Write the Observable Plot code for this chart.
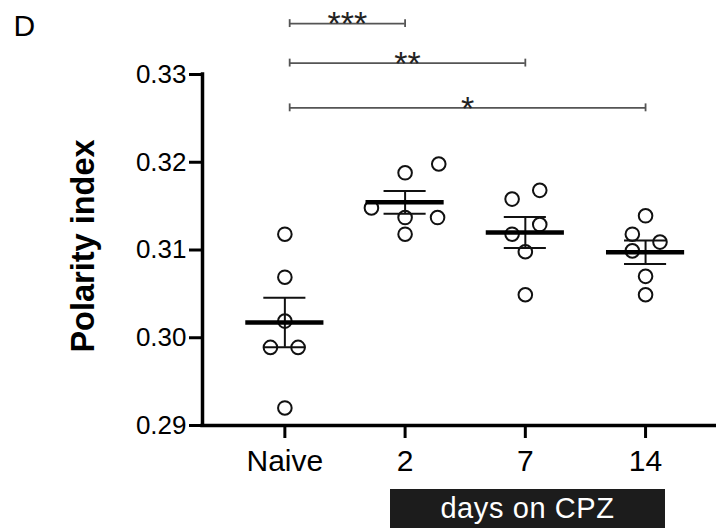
<!DOCTYPE html>
<html><head><meta charset="utf-8">
<script src="https://cdn.jsdelivr.net/npm/d3@7"></script>
<script src="https://cdn.jsdelivr.net/npm/@observablehq/plot@0.6"></script>
<style>
body{margin:0;background:#fff;font-family:"Liberation Sans",Arial,sans-serif;}
#wrap{position:relative;width:716px;height:528px;overflow:hidden;}
#cpz{position:absolute;left:390px;top:489px;width:275px;height:39px;background:#1c1c1c;color:#fff;font-size:29px;line-height:39px;text-align:center;letter-spacing:0.6px;}
</style></head><body><div id="wrap"><div id="chart"></div><div id="cpz">days on CPZ</div></div>
<script>
// Categories
const groups = ["Naive", "2", "7", "14"];
// Polarity index values per animal
const naive = [0.3118, 0.3069, 0.3019, 0.2989, 0.2989, 0.2920];
const day2  = [0.3188, 0.3198, 0.3148, 0.3137, 0.3137, 0.3118];
const day7  = [0.3158, 0.3168, 0.3129, 0.3118, 0.3098, 0.3049];
const day14 = [0.3139, 0.3118, 0.3109, 0.3099, 0.3070, 0.3049];
// Horizontal scatter of each point within its column (x units of one category)
const jitterNaive = [0, 0, 0, -0.12, 0.11, 0];
const jitterDay2  = [0, 0.28, -0.28, 0, 0.27, 0];
const jitterDay7  = [-0.11, 0.12, 0.12, -0.11, 0, 0];
const jitterDay14 = [0, -0.11, 0.12, -0.11, 0, 0];
// Significance brackets (from Naive to target)
const sigTargets = ["2", "7", "14"];
const sigLabels = ["***", "**", "*"];
const sigLevels = [0.3358, 0.3313, 0.3262];
// Y ticks
const yTicks = [0.29, 0.30, 0.31, 0.32, 0.33];

const series = [naive, day2, day7, day14];
const jitters = [jitterNaive, jitterDay2, jitterDay7, jitterDay14];
const points = series.flatMap((vals, g) => vals.map((v, k) => ({g, v, x: g + jitters[g][k]})));
const stats = series.map((vals, g) => {
  const m = d3.mean(vals);
  const se = d3.deviation(vals) / Math.sqrt(vals.length);
  return {g, m, lo: m - se, hi: m + se};
});
const sig = sigTargets.map((t, i) => ({x1: 0.04, x2: groups.indexOf(t), y: sigLevels[i], label: sigLabels[i]}));
const sigEnds = sig.flatMap(d => [{x: d.x1, y: d.y}, {x: d.x2, y: d.y}]);

const XDOM = [-0.685, 3.59], YDOM = [0.29, 0.33];
const MEAN_HW = 0.325, SEM_HW = 0.175, CAP = 0.00045;

const chart = Plot.plot({
  width: 716, height: 489,
  marginLeft: 202, marginRight: 0, marginTop: 74, marginBottom: 64,
  style: {fontFamily: "'Liberation Sans', Arial, sans-serif", color: "#000", background: "#fff", overflow: "visible"},
  x: {domain: XDOM},
  y: {domain: YDOM},
  marks: [
    Plot.ruleY(sig, {x1: "x1", x2: "x2", y: "y", stroke: "#555", strokeWidth: 1.8}),
    Plot.ruleX(sigEnds, {x: "x", y1: d => d.y - CAP, y2: d => d.y + CAP, stroke: "#555", strokeWidth: 1.8}),
    Plot.text(sig, {x: d => (d.x1 + d.x2) / 2, y: "y", text: "label", fontSize: 34, dy: 1, fill: "#222"}),
    Plot.dot(points, {x: "x", y: "v", r: 6.8, stroke: "#111", strokeWidth: 2, fill: "none"}),
    Plot.ruleX(stats, {x: "g", y1: "lo", y2: "hi", stroke: "#111", strokeWidth: 2}),
    Plot.ruleY(stats, {x1: d => d.g - SEM_HW, x2: d => d.g + SEM_HW, y: "lo", stroke: "#111", strokeWidth: 2}),
    Plot.ruleY(stats, {x1: d => d.g - SEM_HW, x2: d => d.g + SEM_HW, y: "hi", stroke: "#111", strokeWidth: 2}),
    Plot.ruleY(stats, {x1: d => d.g - MEAN_HW, x2: d => d.g + MEAN_HW, y: "m", stroke: "#000", strokeWidth: 4.5}),
    Plot.axisY({ticks: yTicks, tickFormat: ".2f", tickSize: 13, tickPadding: 3, fontSize: 26, strokeWidth: 3, label: null}),
    Plot.axisX({ticks: [0, 1, 2, 3], tickFormat: i => groups[i], tickSize: 13, tickPadding: 11, fontSize: 30, strokeWidth: 3, label: null}),
    Plot.ruleX([XDOM[0]], {y1: YDOM[0], y2: YDOM[1], stroke: "#000", strokeWidth: 3.5, strokeLinecap: "square"}),
    Plot.ruleY([YDOM[0]], {x1: XDOM[0], x2: XDOM[1], stroke: "#000", strokeWidth: 3.5, strokeLinecap: "square"}),
    Plot.text(["Polarity index"], {text: d => d, frameAnchor: "left", rotate: -90, textAnchor: "middle", lineAnchor: "bottom", dx: -109, dy: -4, fontSize: 32.5, fontWeight: "bold", fill: "#000"}),
    Plot.text(["D"], {text: d => d, frameAnchor: "top-left", textAnchor: "start", lineAnchor: "bottom", dx: -189, dy: -39, fontSize: 30, fill: "#000"})
  ]
});
document.getElementById("chart").appendChild(chart);
</script>
</body></html>
